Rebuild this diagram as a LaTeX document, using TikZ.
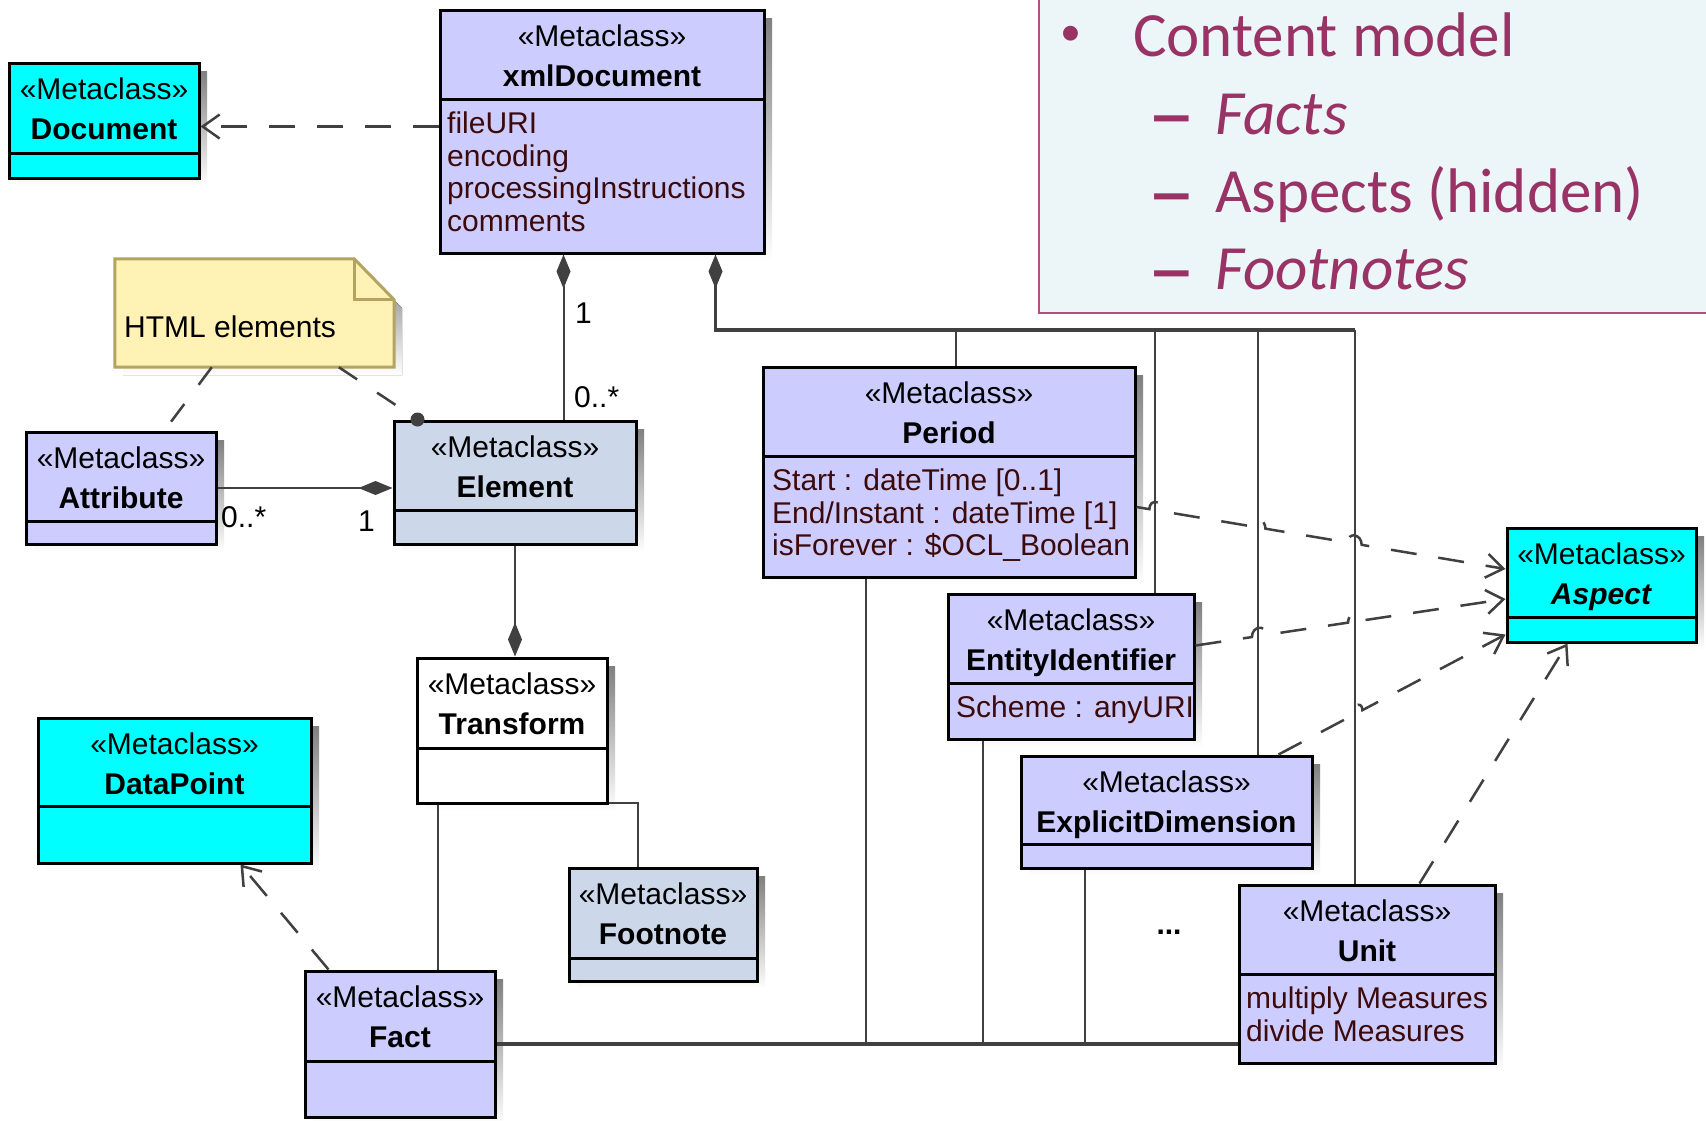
\documentclass[tikz,border=0pt]{standalone}
\usepackage{fontspec}
\setmainfont{Liberation Sans}
\newfontfamily\slidefont{Carlito}
\usetikzlibrary{arrows.meta,calc,fit}

\definecolor{lavender}{HTML}{CCCCFF}
\definecolor{steel}{HTML}{CCD8EA}
\definecolor{aqua}{HTML}{00FFFF}
\definecolor{shade}{HTML}{B4B4B4}
\definecolor{wire}{HTML}{404040}
\definecolor{attrtext}{HTML}{3C0A0A}
\definecolor{notefill}{HTML}{FFF2B4}
\definecolor{noteedge}{HTML}{B4A462}
\definecolor{slidetext}{HTML}{993366}
\definecolor{slidebg}{HTML}{ECF5F8}
\definecolor{slideedge}{HTML}{B0507F}

\tikzset{
  classbox/.style={draw=black, line width=3pt, inner sep=0pt},
  boxrule/.style={draw=black, line width=3pt},
  head/.style={anchor=north, inner sep=0pt, align=center, font=\fontsize{30}{40}\selectfont},
  attrs/.style={anchor=north west, inner sep=0pt, align=left, text=attrtext, font=\fontsize{30}{32.5}\selectfont},
  mult/.style={anchor=base west, inner sep=0pt, font=\fontsize{30}{36}\selectfont},
  link/.style={draw=wire, line width=2pt},
  buslink/.style={draw=wire, line width=3.5pt},
  owner/.style={arrows={Diamond[length=34pt,width=14pt]-}},
  owned/.style={arrows={-Diamond[length=34pt,width=14pt]}},
  dep/.style={draw=wire, line width=2.5pt, dash pattern=on 26pt off 22pt, arrows={-Straight Barb[length=17pt,width=24pt]}},
  anchorline/.style={draw=wire, line width=2.5pt, dash pattern=on 22pt off 24pt},
  slide/.style={inner sep=0pt, anchor=base west, text=slidetext, font=\fontsize{63}{70}\slidefont},
  slidedash/.style={slide, font=\fontsize{63}{70}\slidefont\bfseries},
}

% #1 name, #2 fill, #3 left, #4 top, #5 right, #6 compartment rule, #7 bottom, #8 header
\newcommand{\umlclass}[8]{%
  \fill[shade] ({#3+8},{#4+8}) rectangle ({#5+8},{#7+8});
  \node[classbox, fill=#2, fit={(#3,#4) (#5,#7)}] (#1) {};
  \draw[boxrule] (#3,#6) -- (#5,#6);
  \node[head] (#1-head) at ({(#3+#5)/2},{#4+8}) {#8};
}
\newcommand{\widedash}{\scalebox{1.55}[1.1]{–}}

\begin{document}
\begin{tikzpicture}[x=1pt,y=-1pt]
\useasboundingbox (0,0) rectangle (1706,1120);
\clip (0,0) rectangle (1706,1120);
\fill[white] (0,0) rectangle (1706,1120);

% slide text panel
\node[fit={(1039,-20) (1730,313)}, inner sep=0pt, fill=slidebg, draw=slideedge, line width=2.5pt] (slide) {};
\node[slide, font=\fontsize{42}{50}\slidefont] (bullet) at (1060,45) {•};
\node[slide] (line1) at (1133,56) {Content model};
\node[slidedash] (dash2) at (1147,138) {\widedash};
\node[slide] (line2) at (1215,134) {\itshape Facts};
\node[slidedash] (dash3) at (1147,216) {\widedash};
\node[slide] (line3) at (1215,212) {Aspects (hidden)};
\node[slidedash] (dash4) at (1147,293) {\widedash};
\node[slide] (line4) at (1215,289) {\itshape Footnotes};

% classes
\umlclass{Document}{aqua}{9}{63}{199}{153}{178}{\strut«Metaclass»\\\strut\textbf{Document}}
\umlclass{xmlDocument}{lavender}{440}{10}{764}{99}{253}{\strut«Metaclass»\\\strut\textbf{xmlDocument}}
\node[attrs] (xmlDocument-attrs) at (447,111) {\strut fileURI\\\strut encoding\\\strut processingInstructions\\\strut comments};
\umlclass{Attribute}{lavender}{26}{432}{216}{521}{544}{\strut«Metaclass»\\\strut\textbf{Attribute}}
\umlclass{Element}{steel}{394}{421}{636}{510}{544}{\strut«Metaclass»\\\strut\textbf{Element}}
\umlclass{Transform}{white}{417}{658}{607}{748}{803}{\strut«Metaclass»\\\strut\textbf{Transform}}
\umlclass{DataPoint}{aqua}{38}{718}{311}{806}{863}{\strut«Metaclass»\\\strut\textbf{DataPoint}}
\umlclass{Footnote}{steel}{569}{868}{757}{958}{981}{\strut«Metaclass»\\\strut\textbf{Footnote}}
\umlclass{Fact}{lavender}{305}{971}{495}{1061}{1117}{\strut«Metaclass»\\\strut\textbf{Fact}}
\umlclass{Period}{lavender}{763}{367}{1135}{456}{577}{\strut«Metaclass»\\\strut\textbf{Period}}
\node[attrs] (Period-attrs) at (772,468) {\strut Start : dateTime [0..1]\\\strut End/Instant : dateTime [1]\\\strut isForever : \$OCL\_Boolean};
\umlclass{EntityIdentifier}{lavender}{948}{594}{1194}{683}{739}{\strut«Metaclass»\\\strut\textbf{EntityIdentifier}}
\node[attrs] (EntityIdentifier-attrs) at (956,695) {\strut Scheme : anyURI};
\umlclass{ExplicitDimension}{lavender}{1021}{756}{1312}{844}{868}{\strut«Metaclass»\\\strut\textbf{ExplicitDimension}}
\umlclass{Unit}{lavender}{1239}{885}{1495}{974}{1063}{\strut«Metaclass»\\\strut\textbf{Unit}}
\node[attrs] (Unit-attrs) at (1246,986) {\strut multiply Measures\\\strut divide Measures};
\umlclass{Aspect}{aqua}{1507}{528}{1696}{617}{642}{\strut«Metaclass»\\\strut\textbf{\itshape Aspect}}

% note
\fill[shade] (123,267) -- (362,267) -- (402,308) -- (402,375) -- (123,375) -- cycle;
\node[fit={(115,259) (394,367)}, inner sep=0pt] (note) {};
\draw[fill=notefill, draw=noteedge, line width=3pt, line join=miter]
  (note.north west) -- ([xshift=-40pt]note.north east) -- ([yshift=-41pt]note.north east)
  -- (note.south east) -- (note.south west) -- cycle;
\draw[draw=noteedge, line width=3pt] ([xshift=-40pt]note.north east) |- ([yshift=-41pt]note.north east);
\node[anchor=base west, inner sep=0pt, font=\fontsize{30}{36}\selectfont] (note-text) at (124,337) {HTML elements};

% note anchors
\coordinate (na) at ([xshift=97pt]note.south west);
\coordinate (naE) at ([xshift=140pt]Attribute.north west);
\draw[anchorline] (na) -- (naE);
\coordinate (nb) at ([xshift=224pt]note.south west);
\coordinate (nbE) at ([xshift=25pt]Element.north west);
\draw[anchorline] (nb) -- (nbE);
\fill[wire] (nbE) circle (7pt);

% xmlDocument realises Document
\coordinate (docS) at ([yshift=-6pt]Document.east);
\draw[dep] (xmlDocument.west |- docS) -- (docS);

% composition xmlDocument - Element
\coordinate (xe) at ([xshift=125pt]xmlDocument.south west);
\draw[link, owner] (xe) -- (xe |- Element.north);
\node[mult] (m-one-top) at (575,323) {1};
\node[mult] (m-many-top) at (574,407) {0..*};

% composition xmlDocument - aspects
\coordinate (xb) at ([xshift=277pt]xmlDocument.south west);
\coordinate (busP) at (956,330);
\coordinate (busE) at (1155,330);
\coordinate (busD) at (1258,330);
\coordinate (busU) at (1355,330);
\draw[buslink, owner] (xb) |- (busU);
\draw[link] (busP) -- (busP |- Period.north);
\draw[link] (busE) -- (busE |- EntityIdentifier.north);
\draw[link] (busD) -- (busD |- ExplicitDimension.north);
\draw[link] (busU) -- (busU |- Unit.north);

% Attribute - Element
\draw[link, owned] (Attribute.east) -- (Attribute.east -| Element.west);
\node[mult] (m-many-attr) at (221,527) {0..*};
\node[mult] (m-one-attr) at (358,531) {1};

% Element - Transform
\draw[link, owned] (Element.south) -- (Element.south |- Transform.north);

% Transform - Fact, Transform - Footnote
\coordinate (tf) at ([xshift=22pt]Transform.south west);
\draw[link] (tf) -- (tf |- Fact.north);
\coordinate (tn) at ([yshift=2pt]Transform.south east);
\coordinate (fn) at ([xshift=70pt]Footnote.north west);
\draw[link] (tn) -| (fn);

% Fact - aspects
\draw[buslink] (Fact.east) -- (Fact.east -| Unit.west);
\coordinate (lowP) at (866,1044);
\coordinate (lowE) at (983,1044);
\coordinate (lowD) at (1085,1044);
\draw[link] (Period.south -| lowP) -- (lowP);
\draw[link] (EntityIdentifier.south -| lowE) -- (lowE);
\draw[link] (ExplicitDimension.south -| lowD) -- (lowD);
\node[anchor=base, inner sep=0pt, font=\bfseries\fontsize{30}{36}\selectfont] (more) at (1169,934) {...};

% Fact realises DataPoint
\coordinate (fd) at ([xshift=25pt]Fact.north west);
\coordinate (dp) at ([xshift=204pt]DataPoint.south west);
\draw[dep] (fd) -- (dp);

% aspects realise Aspect
\coordinate (p1) at ([yshift=-35pt]Period.east);
\coordinate (s1) at ([yshift=16pt]Aspect.west);
\draw[dep] (p1) -- ($(p1)!0.0349!(s1)$) .. controls +(0,-11) and +(0,-11) .. ($(p1)!0.0726!(s1)$)
  -- ($(p1)!0.3118!(s1)$) .. controls +(0,-11) and +(0,-11) .. ($(p1)!0.3495!(s1)$)
  -- ($(p1)!0.5726!(s1)$) .. controls +(0,-11) and +(0,-11) .. ($(p1)!0.6102!(s1)$)
  -- (s1);
\coordinate (i1) at ([yshift=21pt]EntityIdentifier.east);
\coordinate (s2) at ([yshift=-14pt]Aspect.west);
\draw[dep] (i1) -- ($(i1)!0.1821!(s2)$) .. controls +(0,-11) and +(0,-11) .. ($(i1)!0.2268!(s2)$)
  -- ($(i1)!0.4920!(s2)$) .. controls +(0,-11) and +(0,-11) .. ($(i1)!0.5367!(s2)$)
  -- (s2);
\coordinate (e1) at ([xshift=-35pt]ExplicitDimension.north east);
\coordinate (s3) at ([yshift=9pt]Aspect.south west);
\draw[dep] (e1) -- ($(e1)!0.3087!(s3)$) .. controls +(0,-11) and +(0,-11) .. ($(e1)!0.3696!(s3)$)
  -- (s3);
\coordinate (u1) at ([xshift=182pt]Unit.north west);
\coordinate (s4) at ([xshift=62pt]Aspect.south west);
\draw[dep] (u1) -- (s4);
\end{tikzpicture}
\end{document}
